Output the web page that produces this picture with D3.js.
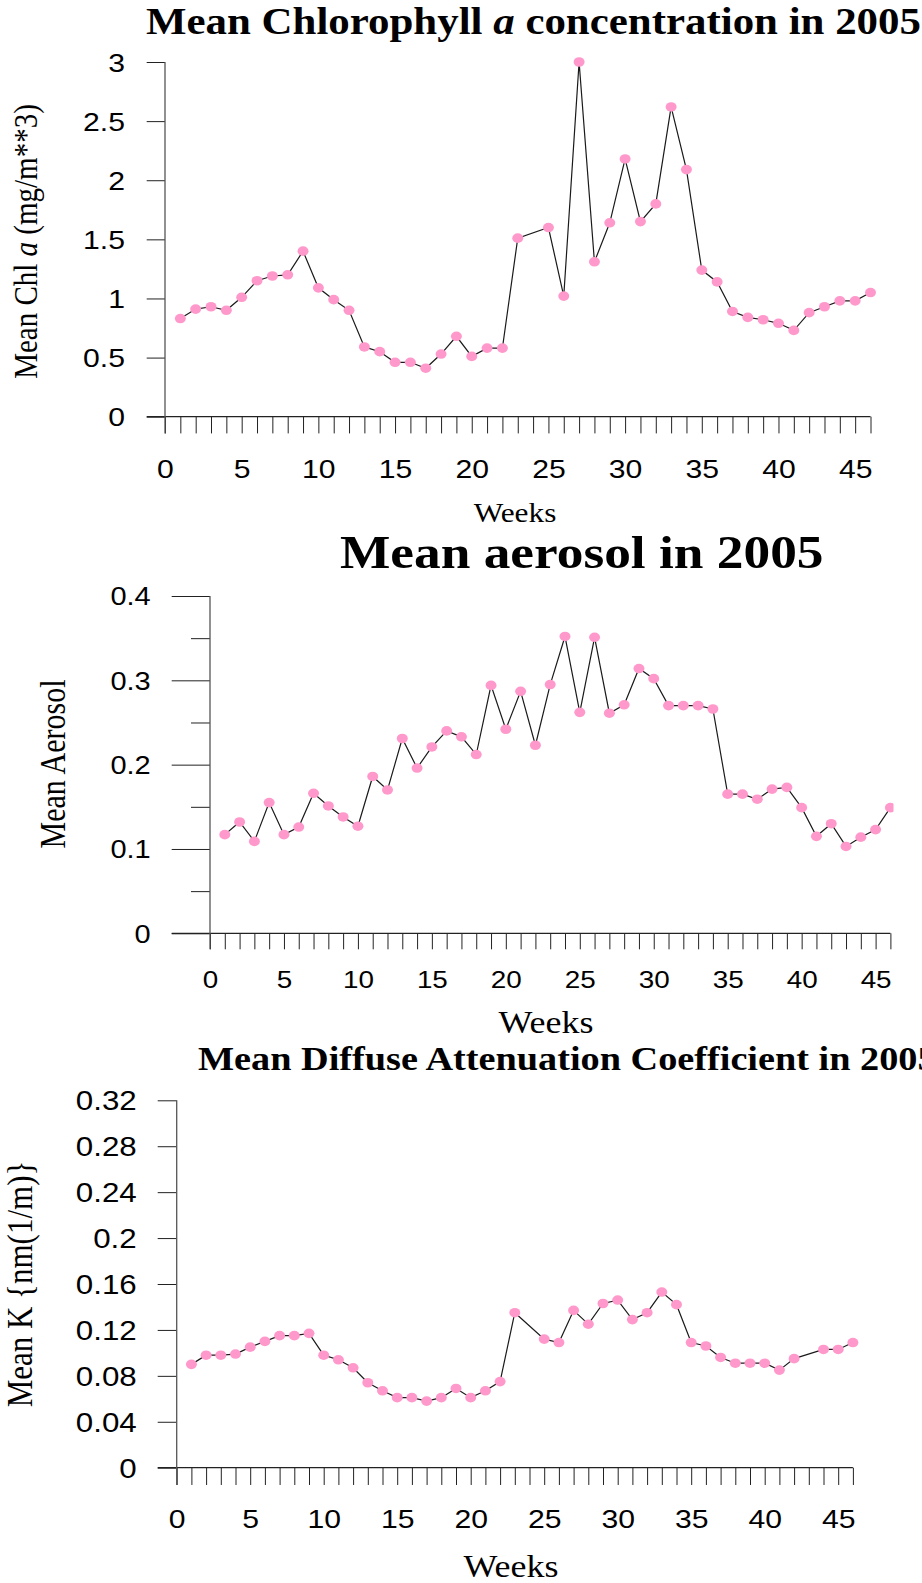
<!DOCTYPE html>
<html>
<head>
<meta charset="utf-8">
<script src="https://cdn.jsdelivr.net/npm/d3@7"></script>
<style>
  body { margin: 0; background: #fff; }
  svg { display: block; }
</style>
</head>
<body>
<svg id="fig" width="922" height="1583"></svg>
<script>
// weekly means, 2005 (null = no data that week)
const weeks = [1, 2, 3, 4, 5, 6, 7, 8, 9, 10, 11, 12, 13, 14, 15, 16, 17, 18, 19, 20, 21, 22, 23,
  24, 25, 26, 27, 28, 29, 30, 31, 32, 33, 34, 35, 36, 37, 38, 39, 40, 41, 42, 43, 44, 45, 46];

const chlValues = [0.83, 0.91, 0.93, 0.90, 1.01, 1.15, 1.19, 1.20, 1.40, 1.09, 0.99, 0.90, 0.59, 0.55,
  0.46, 0.46, 0.41, 0.53, 0.68, 0.51, 0.58, 0.58, 1.51, null, 1.60, 1.02, 3.00, 1.31, 1.64, 2.18,
  1.65, 1.80, 2.62, 2.09, 1.24, 1.14, 0.89, 0.84, 0.82, 0.79, 0.73, 0.88, 0.93, 0.98, 0.98, 1.05];

const aerosolValues = [0.117, 0.132, 0.109, 0.155, 0.117, 0.126, 0.166, 0.151, 0.138, 0.127, 0.186,
  0.170, 0.231, 0.196, 0.221, 0.240, 0.233, 0.212, 0.294, 0.242, 0.287, 0.223, 0.295, 0.352, 0.262,
  0.351, 0.261, 0.271, 0.314, 0.302, 0.270, 0.270, 0.270, 0.266, 0.165, 0.165, 0.159, 0.171, 0.173,
  0.149, 0.115, 0.130, 0.103, 0.114, 0.123, 0.149];

const kdValues = [0.090, 0.098, 0.098, 0.099, 0.105, 0.110, 0.115, 0.115, 0.117, 0.098, 0.094, 0.087,
  0.074, 0.067, 0.061, 0.061, 0.058, 0.061, 0.069, 0.061, 0.067, 0.075, 0.135, null, 0.112, 0.109,
  0.137, 0.125, 0.143, 0.146, 0.129, 0.135, 0.153, 0.142, 0.109, 0.106, 0.096, 0.091, 0.091, 0.091,
  0.085, 0.095, null, 0.103, 0.103, 0.109];

const weekTicks = [0, ...weeks];
const weekLabels = [0, 5, 10, 15, 20, 25, 30, 35, 40, 45];
const chlTicks = [0, 0.5, 1, 1.5, 2, 2.5, 3];
const aerosolTicks = [0, 0.1, 0.2, 0.3, 0.4];
const aerosolMinorTicks = [0.05, 0.15, 0.25, 0.35];
const kdTicks = [0, 0.04, 0.08, 0.12, 0.16, 0.2, 0.24, 0.28, 0.32];

// the original figure is a bit wider than tall, text included
const SX = 1.16;
const SERIF = '"Liberation Serif", "Times New Roman", serif';
const SANS = '"Liberation Sans", Arial, sans-serif';
const DOT = '#ff99cc';

const svg = d3.select('#fig');

function addText(g, parts, opts) {
  const t = g.append('text')
    .attr('transform', `translate(${opts.x},${opts.y}) scale(${SX},1)` + (opts.rotate ? ' rotate(-90)' : ''))
    .attr('text-anchor', opts.anchor || 'start')
    .attr('font-family', SERIF)
    .attr('font-size', opts.size)
    .attr('font-weight', opts.bold ? 'bold' : 'normal')
    .attr('fill', '#000');
  parts.forEach(p => {
    t.append('tspan').attr('font-style', p.italic ? 'italic' : 'normal').text(p.t);
  });
  return t;
}

function drawPanel(p) {
  const g = svg.append('g');
  const x = d3.scaleLinear().domain([0, 46]).range([p.x0, p.x1]);
  const y = d3.scaleLinear().domain([0, p.yMax]).range([p.yBot, p.yTop]);

  // week ticks (every week, hanging below the axis)
  const xt = g.append('g')
    .attr('transform', `translate(0,${p.yBot})`)
    .attr('color', '#222')
    .call(d3.axisBottom(x).tickValues(weekTicks).tickSize(p.xTick).tickFormat(''));
  xt.select('.domain').remove();

  // week labels
  const xl = g.append('g')
    .attr('transform', `translate(0,${p.yBot})`)
    .call(d3.axisBottom(x).tickValues(weekLabels).tickSize(0).tickFormat(d3.format('d')));
  xl.select('.domain').remove();
  xl.selectAll('text')
    .attr('y', null).attr('dy', null)
    .attr('fill', '#000')
    .attr('font-family', SANS)
    .attr('font-size', p.xFont)
    .attr('transform', `translate(0,${p.xLabelBase - p.yBot}) scale(${SX},1)`);

  // value ticks + labels
  const yt = g.append('g')
    .attr('transform', `translate(${p.x0},0)`)
    .attr('color', '#222')
    .call(d3.axisLeft(y).tickValues(p.yTicks).tickSize(p.yTick).tickFormat(d3.format('~g')));
  yt.select('.domain').remove();
  yt.selectAll('text')
    .attr('x', null)
    .attr('dy', '0.35em')
    .attr('fill', '#000')
    .attr('font-family', SANS)
    .attr('font-size', p.yFont)
    .attr('transform', `translate(${p.yLabelRight - p.x0},0) scale(${SX},1)`);

  if (p.yMinor) {
    const ym = g.append('g')
      .attr('transform', `translate(${p.x0},0)`)
      .attr('color', '#222')
      .call(d3.axisLeft(y).tickValues(p.yMinor).tickSize(p.yMinorTick).tickFormat(''));
    ym.select('.domain').remove();
  }

  // axis lines
  g.append('line')
    .attr('x1', p.x0 - p.yTick).attr('x2', x(46))
    .attr('y1', y(0)).attr('y2', y(0))
    .attr('stroke', '#222').attr('stroke-width', 1.2);
  g.append('line')
    .attr('x1', p.x0).attr('x2', p.x0)
    .attr('y1', y(p.yMax)).attr('y2', y(0) + p.xTick)
    .attr('stroke', '#555').attr('stroke-width', 1.3);

  const data = weeks.map((w, i) => ({ week: w, value: p.values[i] }))
    .filter(d => d.value !== null);

  const plot = g.append('g');
  if (p.clipRight) {
    const id = 'clip' + p.id;
    svg.append('clipPath').attr('id', id)
      .append('rect').attr('x', 0).attr('y', 0).attr('width', p.clipRight).attr('height', 1583);
    plot.attr('clip-path', `url(#${id})`);
  }

  plot.append('path')
    .datum(data)
    .attr('fill', 'none')
    .attr('stroke', '#1a1a1a')
    .attr('stroke-width', 1.2)
    .attr('d', d3.line().x(d => x(d.week)).y(d => y(d.value)));

  plot.selectAll('ellipse')
    .data(data)
    .join('ellipse')
    .attr('cx', d => x(d.week))
    .attr('cy', d => y(d.value))
    .attr('rx', 5.5)
    .attr('ry', 4.8)
    .attr('fill', DOT);

  addText(g, p.title, { x: p.titleX, y: p.titleY, size: p.titleSize, bold: true });
  addText(g, [{ t: 'Weeks' }], { x: p.weeksX, y: p.weeksY, size: p.weeksSize, anchor: 'middle' });
  addText(g, p.yLabel, { x: p.yLabelX, y: p.yLabelY, size: p.yLabelSize, anchor: 'middle', rotate: true });
}

drawPanel({
  id: 1, values: chlValues, yMax: 3, yTicks: chlTicks,
  x0: 165, x1: 870.5, yTop: 62, yBot: 416.7,
  yTick: 18.3, xTick: 16.7, yLabelRight: 125, yFont: 26, xFont: 26, xLabelBase: 478,
  title: [{ t: 'Mean Chlorophyll ' }, { t: 'a', italic: true }, { t: ' concentration in 2005' }],
  titleX: 146, titleY: 34, titleSize: 37,
  weeksX: 515, weeksY: 522, weeksSize: 27,
  yLabel: [{ t: 'Mean Chl ' }, { t: 'a', italic: true }, { t: ' (mg/m**3)' }],
  yLabelX: 36.7, yLabelY: 241.5, yLabelSize: 29
});

drawPanel({
  id: 2, values: aerosolValues, yMax: 0.4, yTicks: aerosolTicks,
  yMinor: aerosolMinorTicks, yMinorTick: 19,
  x0: 210, x1: 890.4, yTop: 596, yBot: 933.3,
  yTick: 38.3, xTick: 16, yLabelRight: 150.7, yFont: 25, xFont: 24, xLabelBase: 988,
  clipRight: 893.5,
  title: [{ t: 'Mean aerosol in 2005' }],
  titleX: 340, titleY: 568.3, titleSize: 46,
  weeksX: 546, weeksY: 1033, weeksSize: 31,
  yLabel: [{ t: 'Mean Aerosol' }],
  yLabelX: 65, yLabelY: 764, yLabelSize: 30
});

drawPanel({
  id: 3, values: kdValues, yMax: 0.32, yTicks: kdTicks,
  x0: 176.7, x1: 852.9, yTop: 1100.3, yBot: 1467.7,
  yTick: 19, xTick: 17.3, yLabelRight: 136.7, yFont: 27, xFont: 26, xLabelBase: 1528,
  title: [{ t: 'Mean Diffuse Attenuation Coefficient in 2005' }],
  titleX: 198, titleY: 1070, titleSize: 33,
  weeksX: 511, weeksY: 1577, weeksSize: 31,
  yLabel: [{ t: 'Mean K {nm(1/m)}' }],
  yLabelX: 32, yLabelY: 1284, yLabelSize: 31
});
</script>
</body>
</html>
